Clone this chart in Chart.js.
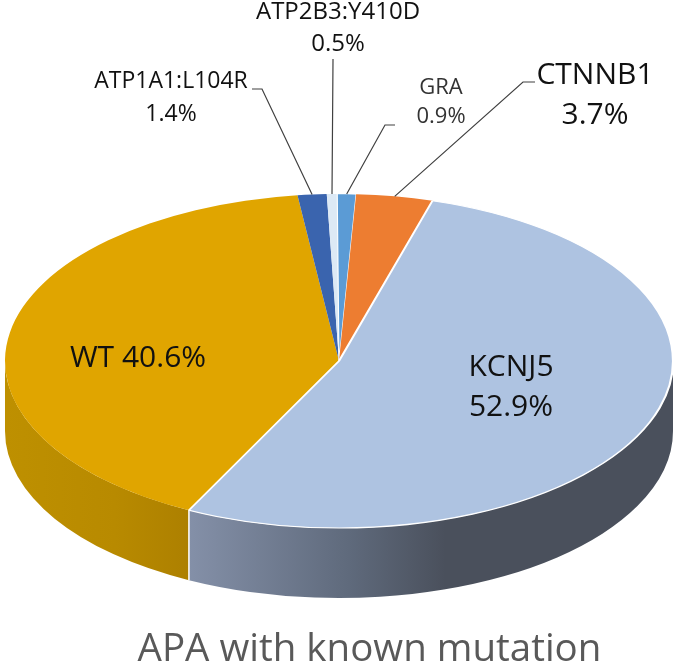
<!DOCTYPE html>
<html>
<head>
<meta charset="utf-8">
<title>APA with known mutation</title>
<script src="https://cdn.jsdelivr.net/npm/chart.js@4"></script>
<style>
  html, body { margin: 0; padding: 0; background: #fff; overflow: hidden; }
  canvas { display: block; }
</style>
</head>
<body>
<canvas id="pie" width="675" height="669"></canvas>
<script>
// data, clockwise from the WT slice. KCNJ5 goes last so its white edge stays on top
const categories = ['WT', 'ATP1A1:L104R', 'ATP2B3:Y410D', 'GRA', 'CTNNB1', 'KCNJ5'];
const percents = [40.6, 1.4, 0.5, 0.9, 3.7, 52.9];
const chartTitle = 'APA with known mutation';

const sliceColors = ['#E0A500', '#3A64AE', '#DCE9F5', '#5B9BD5', '#ED7D31', '#AEC3E1'];
const borderWidths = [0, 0, 0, 1, 0, 2];
const firstSliceAngle = 206.7;

// the flattened pie on the page
const pieCenter = { x: 339, y: 361 };
const pieRadius = { x: 334, y: 167 };
const pieDepth = 70;

// wall gradients, only the two big front slices show a wall
const wallStops = {
    WT: [[0, '#BE9000'], [0.6, '#B88A00'], [1, '#AD8000']],
    KCNJ5: [[0, '#8490A8'], [0.33, '#5F6A7C'], [0.53, '#4A505C'], [1, '#4A505C']],
};

// text placement: one line, or two lines. leader is the line start and bend
const labelLayout = [
    { x: 138, y: 358, size: 30, oneLine: true },
    { x: 171, y: 81, y2: 114, size: 23, leader: [[252, 89], [262, 89]] },
    { x: 338, y: 12, y2: 44, size: 24, leader: [[333, 59], [333, 60]] },
    { x: 441, y: 88, y2: 117, size: 22, color: '#333333', leader: [[395, 125], [385, 125]] },
    { x: 595, y: 75, y2: 115, size: 30, leader: [[535, 82], [523, 82]] },
    { x: 511, y: 367, y2: 407, size: 30 },
];

function projectAngle(angle) {
    return {
        x: pieCenter.x + pieRadius.x * Math.cos(angle),
        y: pieCenter.y + pieRadius.y * Math.sin(angle),
    };
}

const pie3d = {
    id: 'pie3d',
    beforeDatasetsDraw(chart) {
        const ctx = chart.ctx;
        const arcs = chart.getDatasetMeta(0).data;

        // walls below the rim
        arcs.forEach((arc, i) => {
            const stops = wallStops[categories[i]];
            if (!stops) return;
            // Chart.js angles run past 2pi, bring them back so the front half is 0..pi
            const shift = arc.startAngle > Math.PI ? 2 * Math.PI : 0;
            const from = Math.max(arc.startAngle - shift, 0);
            const to = Math.min(arc.endAngle - shift, Math.PI);
            const a = projectAngle(from);
            const b = projectAngle(to);
            const left = Math.min(a.x, b.x);
            const right = Math.max(a.x, b.x);
            const grad = ctx.createLinearGradient(left, 0, right, 0);
            stops.forEach(s => grad.addColorStop(s[0], s[1]));
            ctx.beginPath();
            ctx.ellipse(pieCenter.x, pieCenter.y, pieRadius.x, pieRadius.y, 0, from, to);
            ctx.lineTo(b.x, b.y + pieDepth);
            ctx.ellipse(pieCenter.x, pieCenter.y + pieDepth, pieRadius.x, pieRadius.y, 0, to, from, true);
            ctx.closePath();
            ctx.fillStyle = grad;
            ctx.fill();
        });

        // white seam where KCNJ5 meets WT on the wall
        const seam = projectAngle(arcs[categories.indexOf('KCNJ5')].endAngle);
        ctx.beginPath();
        ctx.moveTo(seam.x, seam.y);
        ctx.lineTo(seam.x, seam.y + pieDepth);
        ctx.strokeStyle = '#FFFFFF';
        ctx.lineWidth = 1.5;
        ctx.stroke();

        // squash the round Chart.js pie onto the ellipse
        const first = arcs[0];
        ctx.save();
        ctx.translate(pieCenter.x, pieCenter.y);
        ctx.scale(pieRadius.x / first.outerRadius, pieRadius.y / first.outerRadius);
        ctx.translate(-first.x, -first.y);
    },
    afterDatasetsDraw(chart) {
        const ctx = chart.ctx;
        ctx.restore();
        const arcs = chart.getDatasetMeta(0).data;

        ctx.textAlign = 'center';
        ctx.textBaseline = 'middle';
        labelLayout.forEach((lab, i) => {
            if (lab.leader) {
                const arc = arcs[i];
                const rim = projectAngle((arc.startAngle + arc.endAngle) / 2);
                ctx.beginPath();
                ctx.moveTo(lab.leader[0][0], lab.leader[0][1]);
                ctx.lineTo(lab.leader[1][0], lab.leader[1][1]);
                ctx.lineTo(rim.x, rim.y);
                ctx.strokeStyle = '#404040';
                ctx.lineWidth = 1.2;
                ctx.stroke();
            }
            ctx.font = lab.size + 'px "Open Sans"';
            ctx.fillStyle = lab.color || '#111111';
            const pct = percents[i].toFixed(1) + '%';
            if (lab.oneLine) {
                ctx.fillText(categories[i] + ' ' + pct, lab.x, lab.y);
            } else {
                ctx.fillText(categories[i], lab.x, lab.y);
                ctx.fillText(pct, lab.x, lab.y2);
            }
        });
    },
};

new Chart(document.getElementById('pie').getContext('2d'), {
    type: 'pie',
    data: {
        labels: categories,
        datasets: [{
            data: percents,
            backgroundColor: sliceColors,
            borderColor: '#FFFFFF',
            borderWidth: borderWidths,
            clip: false,
        }]
    },
    options: {
        responsive: false,
        animation: false,
        events: [],
        rotation: firstSliceAngle,
        layout: { padding: { left: 64 } },
        plugins: {
            legend: { display: false },
            tooltip: { enabled: false },
            title: {
                display: true,
                text: chartTitle,
                position: 'bottom',
                fullSize: false,
                color: '#595959',
                font: { family: '"Open Sans"', size: 38.5, weight: 'normal', lineHeight: 1 },
                padding: { top: 0, bottom: 0 },
            },
        }
    },
    plugins: [pie3d],
});
</script>
</body>
</html>
